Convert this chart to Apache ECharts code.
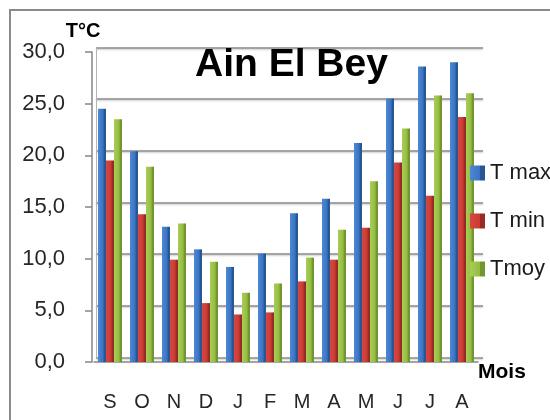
<!DOCTYPE html>
<html>
<head>
<meta charset="utf-8">
<script src="https://cdn.jsdelivr.net/npm/echarts@6/dist/echarts.min.js"></script>
<style>
  html, body { margin: 0; padding: 0; background: #fff; }
  #chart { width: 550px; height: 420px; }
</style>
</head>
<body>
<div id="chart"></div>
<script>
const months = ['S', 'O', 'N', 'D', 'J', 'F', 'M', 'A', 'M', 'J', 'J', 'A'];
const tMax = [24.5, 20.4, 13.1, 10.9, 9.2, 10.5, 14.4, 15.8, 21.2, 25.5, 28.6, 29.0];
const tMin = [19.5, 14.3, 9.9, 5.7, 4.6, 4.8, 7.8, 9.9, 13.0, 19.3, 16.1, 23.7];
const tMoy = [23.5, 18.9, 13.4, 9.7, 6.7, 7.6, 10.1, 12.8, 17.5, 22.6, 25.8, 26.0];

const FONT = '"Liberation Sans", Arial, sans-serif';

// fake 3d: lit front face, darker side face on the right
const shade = (light, mid, dark) =>
  new echarts.graphic.LinearGradient(0, 0, 1, 0, [
    { offset: 0, color: light },
    { offset: 0.68, color: mid },
    { offset: 0.7, color: dark },
    { offset: 1, color: dark },
  ]);

const COLORS = {
  max: shade('#4d87d6', '#3a72c2', '#285795'),
  min: shade('#d9473f', '#c73b34', '#982b26'),
  moy: shade('#a8cd55', '#93bb42', '#74962f'),
};

const chart = echarts.init(document.getElementById('chart'));

chart.setOption({
  backgroundColor: '#fff',
  animation: false,
  title: {
    text: 'Ain El Bey',
    left: 190,
    top: 41,
    textStyle: { fontFamily: FONT, fontSize: 39, fontWeight: 'bold', color: '#000' },
  },
  legend: {
    orient: 'vertical',
    left: 465,
    top: 157,
    itemWidth: 15,
    itemHeight: 15,
    itemGap: 26,
    icon: 'rect',
    textStyle: { fontFamily: FONT, fontSize: 22, lineHeight: 22, color: '#1a1a1a' },
    data: ['T max', 'T min', 'Tmoy'],
  },
  graphic: [
    {
      type: 'rect',
      z: -10,
      shape: { x: 10, y: 10, width: 600, height: 500 },
      style: { fill: 'none', stroke: '#8a8a8a', lineWidth: 2 },
    },
  ],
  grid: [
    // back wall
    { left: 96, right: 67, top: 47.5, bottom: 62.5 },
    // front plane with bars and axes
    { left: 94, right: 72, top: 52, bottom: 58 },
  ],
  xAxis: [
    {
      gridIndex: 0,
      type: 'category',
      data: months,
      show: false,
    },
    {
      gridIndex: 1,
      type: 'category',
      data: months,
      name: 'Mois',
      nameLocation: 'end',
      nameGap: 0,
      nameTextStyle: {
        fontFamily: FONT, fontSize: 21, fontWeight: 'bold', color: '#000',
        verticalAlign: 'top', padding: [0, 0, 0, 0],
      },
      axisLine: { lineStyle: { color: '#868686', width: 1.5 } },
      axisTick: { length: 8, lineStyle: { color: '#868686', width: 1.5 } },
      axisLabel: { fontFamily: FONT, fontSize: 20, color: '#262626', margin: 30 },
    },
  ],
  yAxis: [
    {
      gridIndex: 0,
      type: 'value',
      min: 0,
      max: 30,
      interval: 5,
      axisLine: { show: true, lineStyle: { color: '#b4b4b4', width: 1 } },
      axisTick: { show: false },
      axisLabel: { show: false },
      splitLine: {
        lineStyle: {
          color: '#8c8c8c', width: 1.5,
          shadowColor: 'rgba(0,0,0,0.25)', shadowBlur: 2, shadowOffsetY: 1,
        },
      },
    },
    {
      gridIndex: 1,
      type: 'value',
      min: 0,
      max: 30,
      interval: 5,
      offset: 2,
      name: 'T°C',
      nameLocation: 'end',
      nameGap: 9,
      nameTextStyle: {
        fontFamily: FONT, fontSize: 20, fontWeight: 'bold', color: '#000',
        align: 'center', padding: [0, 18, 0, 0],
      },
      axisLine: { show: true, lineStyle: { color: '#868686', width: 1.5 } },
      axisTick: { show: true, length: 7, lineStyle: { color: '#868686', width: 1.5 } },
      axisLabel: {
        fontFamily: FONT, fontSize: 22, color: '#262626', margin: 27,
        formatter: (v) => v.toFixed(1).replace('.', ','),
      },
      splitLine: { show: false },
    },
  ],
  series: [
    { name: 'T max', data: tMax, color: COLORS.max },
    { name: 'T min', data: tMin, color: COLORS.min },
    { name: 'Tmoy', data: tMoy, color: COLORS.moy },
  ].map((s) => ({
    name: s.name,
    type: 'bar',
    xAxisIndex: 1,
    yAxisIndex: 1,
    barWidth: 8,
    barGap: '0%',
    itemStyle: { color: s.color },
    data: s.data,
  })),
});
</script>
</body>
</html>
